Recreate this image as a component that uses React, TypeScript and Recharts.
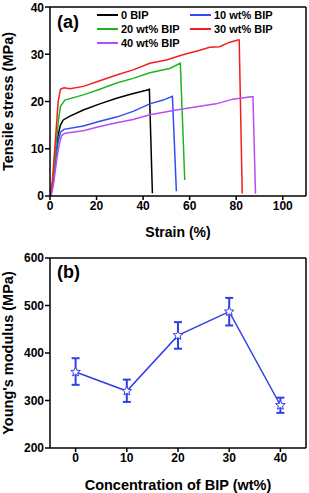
import * as React from "react";
import {
  LineChart,
  Line,
  XAxis,
  YAxis,
  ErrorBar,
  ReferenceLine,
} from "recharts";

// (a) stress-strain curves
const STRAIN_0 = [0, 1, 2.5, 3.5, 4.5, 5.7, 8.6, 14.3, 21.4, 28.6, 35, 41.4, 42.7, 44];
const STRESS_0 = [0, 2, 9, 13, 15, 16.1, 16.9, 18.2, 19.5, 20.7, 21.6, 22.4, 22.6, 0.6];

const STRAIN_10 = [0.3, 1.5, 2.5, 3.5, 4.5, 6, 14.3, 21.4, 28.6, 35.7, 42.9, 48.6, 52.6, 54.3];
const STRESS_10 = [0, 3, 8, 11.5, 13.5, 14.1, 14.8, 15.8, 16.7, 17.9, 19.5, 20.3, 21.1, 1];

const STRAIN_20 = [0, 1, 2.5, 3.5, 4.5, 6.4, 14.3, 21.4, 28.6, 35.7, 42.9, 51.4, 56, 57.9];
const STRESS_20 = [0, 2.5, 10, 15.5, 19, 20.3, 21.4, 22.6, 23.9, 24.9, 26.1, 27, 28.1, 3.4];

const STRAIN_30 = [0, 1, 2.5, 3.5, 4.5, 6, 8.6, 14.3, 21.4, 28.6, 35.7, 42.9, 50, 57.1, 64, 68.6, 72.9, 77, 80.7, 81.3, 82.6];
const STRESS_30 = [0, 3, 13, 20, 22.6, 22.9, 22.7, 23.2, 24.4, 25.6, 26.7, 28.1, 28.8, 29.9, 30.8, 31.5, 31.6, 32.5, 33, 33, 0.5];

const STRAIN_40 = [0.5, 1.5, 3, 4, 5, 6.5, 14.3, 21.4, 28.6, 35.7, 42.9, 54.3, 65.7, 71.4, 78.6, 86.4, 87.2, 88.3];
const STRESS_40 = [0, 2.5, 8, 11, 12.8, 13.3, 13.8, 14.7, 15.5, 16.2, 17.2, 18.2, 19.1, 19.5, 20.5, 21, 21, 0.5];

// (b) Young's modulus vs BIP content
const BIP_CONTENT = [0, 10, 20, 30, 40];
const MODULUS = [360, 320, 437, 487, 290];
const MODULUS_ERR_LOW = [27, 23, 28, 29, 16];
const MODULUS_ERR_HIGH = [29, 24, 28, 29, 16];

const SERIES = [
  { name: "0 BIP", strain: STRAIN_0, stress: STRESS_0, color: "#000000" },
  { name: "10 wt% BIP", strain: STRAIN_10, stress: STRESS_10, color: "#2f4cf5" },
  { name: "20 wt% BIP", strain: STRAIN_20, stress: STRESS_20, color: "#1fb41f" },
  { name: "30 wt% BIP", strain: STRAIN_30, stress: STRESS_30, color: "#f51d1d" },
  { name: "40 wt% BIP", strain: STRAIN_40, stress: STRESS_40, color: "#b64ef5" },
];

const FONT = "'Liberation Sans', Arial, sans-serif";
const tickStyle = { fontSize: 12, fontWeight: 700, fill: "#000", fontFamily: FONT };
const titleStyle = { fontSize: 14.5, fontWeight: 700, fill: "#000", fontFamily: FONT, textAnchor: "middle" as const };
const AXIS = { stroke: "#000", strokeWidth: 1.5 };

const curveData = SERIES.map((s) => s.strain.map((x, i) => ({ x, y: s.stress[i] })));

const modulusData = BIP_CONTENT.map((c, i) => ({
  c,
  m: MODULUS[i],
  err: [MODULUS_ERR_LOW[i], MODULUS_ERR_HIGH[i]],
}));

// legend sits inside the plot, two columns filled row by row
function LegendBox(): React.JSX.Element {
  return (
    <div
      style={{
        position: "absolute",
        left: 97,
        top: 9,
        display: "grid",
        gridTemplateColumns: "93px 100px",
        rowGap: 2,
        fontFamily: FONT,
        fontWeight: 700,
        fontSize: 11,
      }}
    >
      {SERIES.map((s) => (
        <div key={s.name} style={{ display: "flex", alignItems: "center", height: 12 }}>
          <span style={{ display: "inline-block", width: 21, height: 1.5, background: s.color, marginRight: 3 }} />
          <span>{s.name}</span>
        </div>
      ))}
    </div>
  );
}

function Star(props: any): React.JSX.Element | null {
  const { cx, cy, index } = props;
  if (cx == null || cy == null) return null;
  const pts: string[] = [];
  for (let k = 0; k < 10; k++) {
    const r = k % 2 === 0 ? 5 : 2.2;
    const a = -Math.PI / 2 + (k * Math.PI) / 5;
    pts.push(`${cx + r * Math.cos(a)},${cy + r * Math.sin(a)}`);
  }
  return <polygon key={index} points={pts.join(" ")} fill="#fff" stroke="#2f3fe8" strokeWidth={1} />;
}

export default function App(): React.JSX.Element {
  return (
    <div style={{ position: "absolute", left: 0, top: 0, width: 309, height: 493, background: "#fff" }}>
      <div style={{ position: "relative", height: 250 }}>
        <LineChart width={309} height={250} margin={{ top: 7, right: 3, left: 0, bottom: 0 }}>
          <XAxis
            dataKey="x"
            type="number"
            domain={[0, 110]}
            ticks={[0, 20, 40, 60, 80, 100]}
            allowDataOverflow
            height={54}
            tick={tickStyle}
            tickSize={4}
            tickMargin={1}
            axisLine={AXIS}
            tickLine={AXIS}
            label={{ value: "Strain (%)", position: "insideBottom", offset: 13, style: { ...titleStyle, fontSize: 14 } }}
          />
          <YAxis
            type="number"
            domain={[0, 40]}
            ticks={[0, 10, 20, 30, 40]}
            width={50}
            tick={tickStyle}
            tickSize={5}
            tickMargin={1}
            axisLine={AXIS}
            tickLine={AXIS}
            label={{ value: "Tensile stress (MPa)", angle: -90, position: "insideLeft", offset: 8, style: titleStyle }}
          />
          {/* box frame: top and right edges */}
          <ReferenceLine y={40} stroke="#000" strokeWidth={1.5} />
          <ReferenceLine x={110} stroke="#000" strokeWidth={1.5} />
          {SERIES.map((s, i) => (
            <Line
              key={s.name}
              data={curveData[i]}
              dataKey="y"
              name={s.name}
              type="linear"
              stroke={s.color}
              strokeWidth={1.5}
              dot={false}
              isAnimationActive={false}
            />
          ))}
        </LineChart>
        <LegendBox />
        <div style={{ position: "absolute", left: 57, top: 12, fontFamily: FONT, fontWeight: 700, fontSize: 18 }}>(a)</div>
      </div>
      <div style={{ position: "relative", height: 243 }}>
        <LineChart width={309} height={243} data={modulusData} margin={{ top: 8, right: 3, left: 0, bottom: 0 }}>
          <XAxis
            dataKey="c"
            type="number"
            domain={[-5, 45]}
            ticks={BIP_CONTENT}
            height={45}
            tick={tickStyle}
            tickSize={4}
            tickMargin={1}
            axisLine={AXIS}
            tickLine={AXIS}
            label={{ value: "Concentration of BIP (wt%)", position: "insideBottom", offset: 3, style: titleStyle }}
          />
          <YAxis
            type="number"
            domain={[200, 600]}
            ticks={[200, 300, 400, 500, 600]}
            width={50}
            tick={tickStyle}
            tickSize={5}
            tickMargin={1}
            axisLine={AXIS}
            tickLine={AXIS}
            label={{ value: "Young's modulus (MPa)", angle: -90, position: "insideLeft", offset: 8, style: titleStyle }}
          />
          <ReferenceLine y={600} stroke="#000" strokeWidth={1.5} />
          <ReferenceLine x={45} stroke="#000" strokeWidth={1.5} />
          <Line
            dataKey="m"
            type="linear"
            stroke="#2f3fe8"
            strokeWidth={1.5}
            dot={Star}
            isAnimationActive={false}
          >
            <ErrorBar dataKey="err" direction="y" width={4} stroke="#2f3fe8" strokeWidth={2} />
          </Line>
        </LineChart>
        <div style={{ position: "absolute", left: 57, top: 12, fontFamily: FONT, fontWeight: 700, fontSize: 18 }}>(b)</div>
      </div>
    </div>
  );
}
